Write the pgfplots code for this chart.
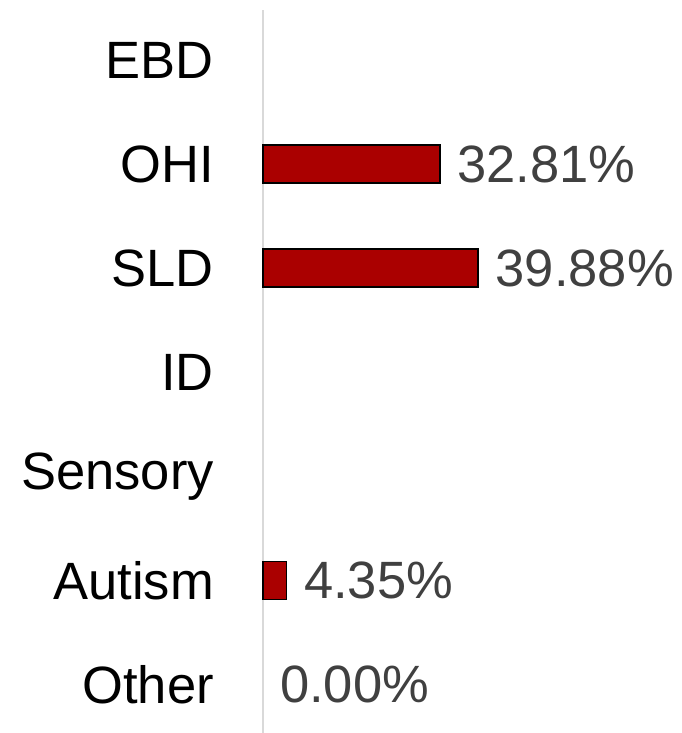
\documentclass[border=0pt]{standalone}
\usepackage{pgfplots}
\pgfplotsset{compat=1.18}
\usepackage{fontspec}
\setmainfont{Liberation Sans}
\definecolor{barred}{HTML}{AA0000}
\definecolor{lblgray}{HTML}{404040}
\definecolor{axgray}{HTML}{D9D9D9}
\begin{document}
\begin{tikzpicture}
\begin{axis}[
  at={(0,0)}, anchor=south west,
  scale only axis,
  width=419pt, height=723pt,
  xmin=0, xmax=77.74,
  ymin=-0.48, ymax=6.465,
  y dir=reverse,
  axis x line=none,
  axis y line=left,
  axis line style={-, draw=axgray, line width=1.2pt},
  ytick={0,1,2,3,4,5,6},
  yticklabels={EBD,OHI,SLD,ID,Sensory,Autism,Other},
  major tick length=0pt,
  yticklabel style={font=\fontsize{52.5}{63}\selectfont, text=black, inner sep=0pt, xshift=-49pt},
  /pgf/number format/assume math mode=true,
  xbar, bar width=38pt, bar shift=0pt,
  nodes near coords={\pgfmathprintnumber[fixed,fixed zerofill,precision=2]{\pgfplotspointmeta}\%},
  nodes near coords align={horizontal},
  every node near coord/.append style={font=\fontsize{52.5}{63}\selectfont, text=lblgray, inner sep=0pt, xshift=17pt, anchor=west},
  clip=false,
]
\addplot[fill=barred, draw=black, line width=1.5pt] coordinates {(32.81,1) (39.88,2) (4.35,5)};
\addplot[draw=none, fill=none] coordinates {(0,6)};
\end{axis}
\pgfresetboundingbox
\path (-263pt,0pt) rectangle (419pt,733pt);
\end{tikzpicture}
\end{document}
